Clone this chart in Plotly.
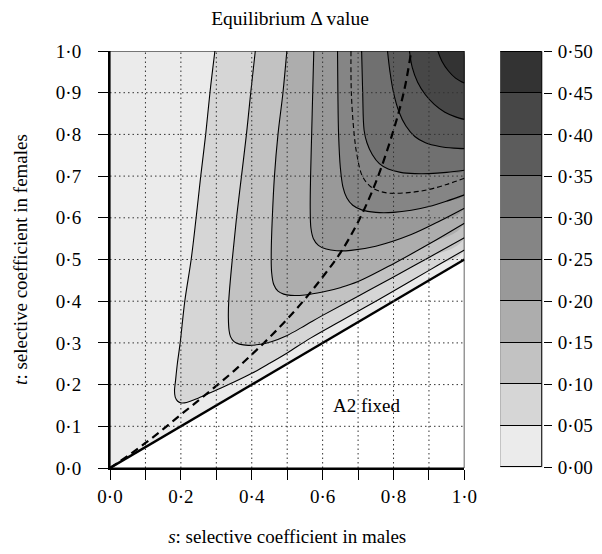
import plotly.graph_objects as go

# ---------------- data ----------------
levels = [0.00, 0.05, 0.10, 0.15, 0.20, 0.25, 0.30, 0.35, 0.40, 0.45, 0.50]
level_labels = ["0·00", "0·05", "0·10", "0·15", "0·20", "0·25", "0·30", "0·35", "0·40", "0·45", "0·50"]
band_colors = ["#ebebeb", "#d6d6d6", "#c2c2c2", "#adadad", "#999999",
               "#858585", "#707070", "#5c5c5c", "#474747", "#333333"]

# contour lines (s, t) of the equilibrium Delta value
c005_s = [0.296, 0.282, 0.270, 0.256, 0.243, 0.229, 0.211, 0.198, 0.190, 0.185, 0.182, 0.184, 0.191, 0.202, 0.216,
          0.250, 0.300, 0.350, 0.400, 0.450, 0.500, 0.567, 0.650, 0.750, 0.850, 0.925, 1.000]
c005_t = [1.000, 0.900, 0.800, 0.700, 0.600, 0.500, 0.400, 0.300, 0.250, 0.210, 0.185, 0.170, 0.160, 0.156, 0.157,
          0.168, 0.187, 0.206, 0.227, 0.251, 0.276, 0.312, 0.352, 0.400, 0.449, 0.486, 0.523]
c010_s = [0.410, 0.397, 0.385, 0.371, 0.357, 0.345, 0.335, 0.334, 0.336, 0.340, 0.350, 0.365, 0.390, 0.420,
          0.455, 0.500, 0.539, 0.567, 0.600, 0.700, 0.800, 0.900, 1.000]
c010_t = [1.000, 0.900, 0.800, 0.700, 0.600, 0.500, 0.400, 0.360, 0.330, 0.315, 0.303, 0.297, 0.294, 0.296,
          0.303, 0.318, 0.336, 0.350, 0.366, 0.412, 0.458, 0.505, 0.552]
c015_s = [0.499, 0.488, 0.474, 0.464, 0.458, 0.455, 0.456, 0.462, 0.474, 0.490, 0.510, 0.550, 0.600, 0.652,
          0.700, 0.800, 0.900, 1.000]
c015_t = [1.000, 0.900, 0.800, 0.700, 0.600, 0.520, 0.470, 0.440, 0.424, 0.417, 0.414, 0.415, 0.422, 0.433,
          0.447, 0.490, 0.537, 0.587]
c020_s = [0.575, 0.572, 0.569, 0.566, 0.565, 0.567, 0.574, 0.588, 0.610, 0.640, 0.680, 0.750, 0.850, 0.925, 1.000]
c020_t = [1.000, 0.900, 0.800, 0.700, 0.620, 0.575, 0.550, 0.534, 0.525, 0.521, 0.522, 0.532, 0.560, 0.590, 0.623]
c025_s = [0.642, 0.643, 0.645, 0.650, 0.657, 0.668, 0.685, 0.710, 0.750, 0.800, 0.850, 0.900, 0.950, 1.000]
c025_t = [1.000, 0.900, 0.800, 0.720, 0.675, 0.648, 0.630, 0.619, 0.613, 0.613, 0.618, 0.627, 0.640, 0.655]
c030_s = [0.710, 0.713, 0.717, 0.725, 0.740, 0.760, 0.785, 0.820, 0.860, 0.900, 0.950, 1.000]
c030_t = [1.000, 0.900, 0.810, 0.780, 0.752, 0.730, 0.717, 0.709, 0.706, 0.706, 0.709, 0.714]
c035_s = [0.783, 0.790, 0.800, 0.815, 0.835, 0.860, 0.890, 0.930, 0.970, 1.000]
c035_t = [1.000, 0.950, 0.900, 0.855, 0.820, 0.795, 0.780, 0.771, 0.767, 0.766]
c040_s = [0.845, 0.853, 0.868, 0.890, 0.915, 0.945, 0.975, 1.000]
c040_t = [1.000, 0.960, 0.925, 0.895, 0.872, 0.853, 0.842, 0.836]
c045_s = [0.925, 0.937, 0.955, 0.975, 1.000]
c045_t = [1.000, 0.975, 0.952, 0.935, 0.923]

# thin dashed curve
dotted_s = [0.680, 0.681, 0.689, 0.697, 0.712, 0.735, 0.760, 0.790, 0.850, 0.900, 0.950, 1.000]
dotted_t = [1.000, 0.900, 0.800, 0.750, 0.700, 0.675, 0.664, 0.659, 0.661, 0.668, 0.680, 0.695]

# thick dashed curve
dashed_s = [0.00, 0.05, 0.10, 0.15, 0.20, 0.25, 0.30, 0.35, 0.40, 0.45, 0.50, 0.55, 0.60, 0.65,
            0.70, 0.75, 0.80, 0.83, 0.85]
dashed_t = [0.000, 0.029, 0.060, 0.093, 0.128, 0.162, 0.197, 0.233, 0.272, 0.313, 0.357, 0.405, 0.458, 0.516,
            0.590, 0.685, 0.810, 0.905, 1.000]

# boundary of the "A2 fixed" region (t = s/2)
boundary_s = [0.0, 1.0]
boundary_t = [0.0, 0.5]

s_range = [0.0, 1.0]
t_range = [0.0, 1.0]
s_ticks = [0.0, 0.1, 0.2, 0.3, 0.4, 0.5, 0.6, 0.7, 0.8, 0.9, 1.0]
s_ticktext = ["0·0", "", "0·2", "", "0·4", "", "0·6", "", "0·8", "", "1·0"]
t_ticks = [0.0, 0.1, 0.2, 0.3, 0.4, 0.5, 0.6, 0.7, 0.8, 0.9, 1.0]
t_ticktext = ["0·0", "0·1", "0·2", "0·3", "0·4", "0·5", "0·6", "0·7", "0·8", "0·9", "1·0"]

contours = [(c005_s, c005_t), (c010_s, c010_t), (c015_s, c015_t), (c020_s, c020_t), (c025_s, c025_t),
            (c030_s, c030_t), (c035_s, c035_t), (c040_s, c040_t), (c045_s, c045_t)]

FONT = "Liberation Serif"
fig = go.Figure()

# filled super-level regions
for i, (cs, ct) in enumerate(contours):
    fig.add_trace(go.Scatter(
        x=cs + [s_range[1]], y=ct + [t_range[1]], mode="lines", fill="toself",
        fillcolor=band_colors[i + 1], line=dict(width=0, shape="spline", smoothing=1.0),
        hoverinfo="skip", showlegend=False))

# A2 fixed region (white)
fig.add_trace(go.Scatter(
    x=boundary_s + [s_range[1]], y=boundary_t + [t_range[0]], mode="lines", fill="toself",
    fillcolor="white", line=dict(width=0), hoverinfo="skip", showlegend=False))

# contour lines
for cs, ct in contours:
    fig.add_trace(go.Scatter(x=cs, y=ct, mode="lines",
                             line=dict(color="black", width=1.1, shape="spline", smoothing=1.0),
                             hoverinfo="skip", showlegend=False))

fig.add_trace(go.Scatter(x=dotted_s, y=dotted_t, mode="lines",
                         line=dict(color="black", width=1.1, dash="5px,3px", shape="spline", smoothing=1.0),
                         hoverinfo="skip", showlegend=False))
fig.add_trace(go.Scatter(x=dashed_s, y=dashed_t, mode="lines",
                         line=dict(color="black", width=2.2, dash="8px,5px", shape="spline", smoothing=1.0),
                         hoverinfo="skip", showlegend=False))
fig.add_trace(go.Scatter(x=boundary_s, y=boundary_t, mode="lines",
                         line=dict(color="black", width=2.4),
                         hoverinfo="skip", showlegend=False))

# colour key as stacked bars
fig.add_trace(go.Bar(
    x=[0] * (len(levels) - 1), y=[levels[i + 1] - levels[i] for i in range(len(levels) - 1)],
    base=levels[:-1], marker=dict(color=band_colors, line=dict(color="black", width=1)),
    width=1.0, xaxis="x2", yaxis="y2", hoverinfo="skip", showlegend=False))

# dotted grid drawn above the fills
shapes = []
for v in s_ticks[1:-1]:
    shapes.append(dict(type="line", xref="x", yref="y", x0=v, x1=v, y0=t_range[0], y1=t_range[1],
                       line=dict(color="#333333", width=1, dash="1.5px,3px"), layer="above"))
for v in t_ticks[1:-1]:
    shapes.append(dict(type="line", xref="x", yref="y", x0=s_range[0], x1=s_range[1], y0=v, y1=v,
                       line=dict(color="#333333", width=1, dash="1.5px,3px"), layer="above"))
shapes.append(dict(type="rect", xref="x", yref="y", x0=s_range[0], x1=s_range[1], y0=t_range[0], y1=t_range[1],
                   line=dict(color="black", width=1.2), layer="above"))

# the page body adds an 8 px offset, so the figure is laid out 8 px up/left
fig.update_layout(
    width=602, height=554,
    margin=dict(l=100, r=58, t=43, b=94),
    paper_bgcolor="white", plot_bgcolor=band_colors[0],
    font=dict(family=FONT, size=19, color="black"),
    title=dict(text="Equilibrium Δ value", font=dict(family=FONT, size=19.5, color="black"),
               x=282 / 602, xref="container", xanchor="center",
               y=1 - 10 / 554, yref="container", yanchor="middle"),
    shapes=shapes,
    bargap=0,
    annotations=[dict(text="A2 fixed", x=0.725, y=0.15, xref="x", yref="y", showarrow=False,
                      font=dict(family=FONT, size=19, color="black"))],
    xaxis=dict(domain=[0, 356 / 444], range=s_range, tickvals=s_ticks, ticktext=s_ticktext,
               ticks="outside", ticklen=10, tickwidth=1, tickcolor="black", ticklabelstandoff=0,
               showgrid=False, zeroline=False, showline=True, linewidth=2, linecolor="black",
               title=dict(text="<i>s</i>: selective coefficient in males", standoff=24,
                          font=dict(family=FONT, size=19))),
    yaxis=dict(domain=[0, 1], range=t_range, tickvals=t_ticks, ticktext=t_ticktext,
               ticks="outside", ticklen=10, tickwidth=1, tickcolor="black", ticklabelstandoff=13,
               showgrid=False, zeroline=False, showline=True, linewidth=2, linecolor="black",
               title=dict(text="<i>t</i>: selective coefficient in females", standoff=23,
                          font=dict(family=FONT, size=19))),
    xaxis2=dict(domain=[(500 - 108) / 444, (543 - 108) / 444], range=[-0.51, 0.51], anchor="y2",
                visible=False, fixedrange=True),
    yaxis2=dict(domain=[0, 1], range=[-0.001, 0.501], anchor="x2", side="right",
                tickvals=levels, ticktext=level_labels, ticks="outside", ticklen=8, tickwidth=1,
                tickcolor="black", ticklabelstandoff=2, showgrid=False, zeroline=False, showline=False),
)

fig.write_html("out.html")
